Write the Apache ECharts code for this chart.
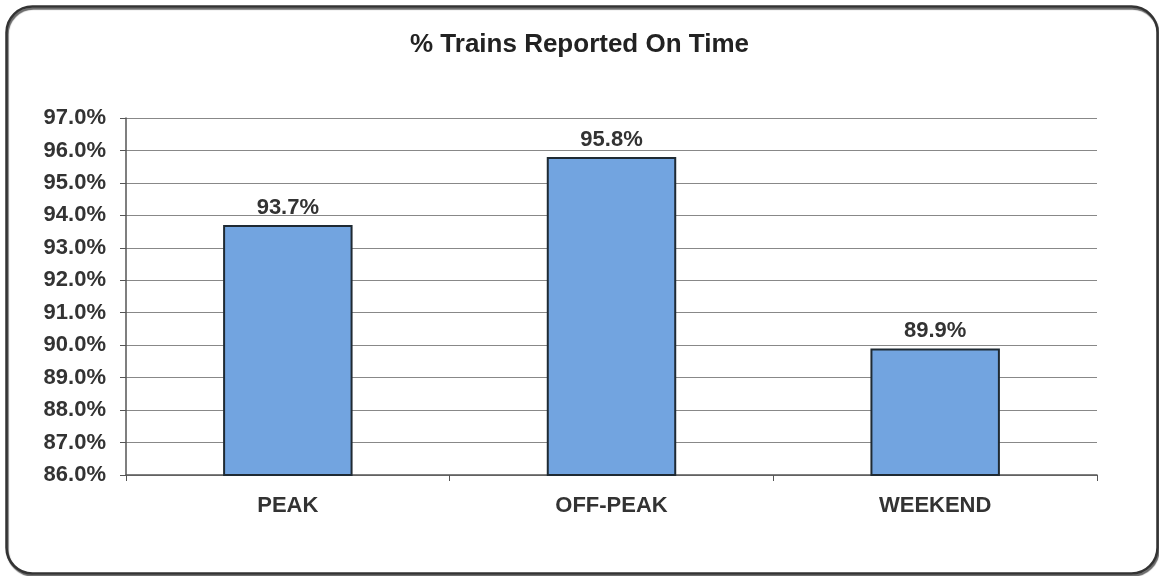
<!DOCTYPE html>
<html><head><meta charset="utf-8">
<script src="https://cdn.jsdelivr.net/npm/echarts@6/dist/echarts.min.js"></script>
<style>html,body{margin:0;padding:0;background:#fff}#c{width:1159px;height:576px}</style>
</head><body><div id="c"></div>
<script>
const categories = ['PEAK', 'OFF-PEAK', 'WEEKEND'];
const onTime = [93.7, 95.8, 89.9];
const yMin = 86, yMax = 97, yStep = 1;

const FONT = 'Liberation Sans, Arial';
const chart = echarts.init(document.getElementById('c'));
chart.setOption({
  animation: false,
  backgroundColor: '#fff',
  title: {
    text: '% Trains Reported On Time', left: 'center', top: 27,
    textStyle: { fontFamily: FONT, fontWeight: 'bold', fontSize: 26, color: '#222' }
  },
  graphic: [{
    type: 'rect', left: 4, top: 4, shape: { width: 1151, height: 567, r: 26 },
    style: { fill: 'none', stroke: '#333', lineWidth: 2.5,
      shadowColor: 'rgba(0,0,0,0.6)', shadowOffsetX: 1, shadowOffsetY: 2, shadowBlur: 1 }, z: 10
  }],
  grid: { left: 126, right: 62, top: 118, bottom: 101 },
  xAxis: {
    type: 'category', data: categories,
    axisLine: { lineStyle: { color: '#555', width: 1.5 } },
    axisTick: { show: true, length: 6, lineStyle: { color: '#555' } },
    axisLabel: { margin: 20, fontFamily: FONT, fontWeight: 'bold', fontSize: 22, color: '#333' }
  },
  yAxis: {
    type: 'value', min: yMin, max: yMax, interval: yStep,
    axisLine: { show: true, lineStyle: { color: '#555', width: 1.5 } },
    axisTick: { show: true, length: 6, lineStyle: { color: '#555' } },
    splitLine: { lineStyle: { color: '#888', width: 1.2 } },
    axisLabel: {
      margin: 20, fontFamily: FONT, fontWeight: 'bold', fontSize: 22, color: '#333',
      formatter: v => v.toFixed(1) + '%'
    }
  },
  series: [{
    type: 'bar', data: onTime, barWidth: '40%',
    itemStyle: { color: '#72a4e0', borderColor: '#1f2a33', borderWidth: 2 },
    label: {
      show: true, position: 'top', distance: 6,
      fontFamily: FONT, fontWeight: 'bold', fontSize: 22, color: '#333',
      formatter: p => p.value.toFixed(1) + '%'
    }
  }]
});
</script></body></html>
